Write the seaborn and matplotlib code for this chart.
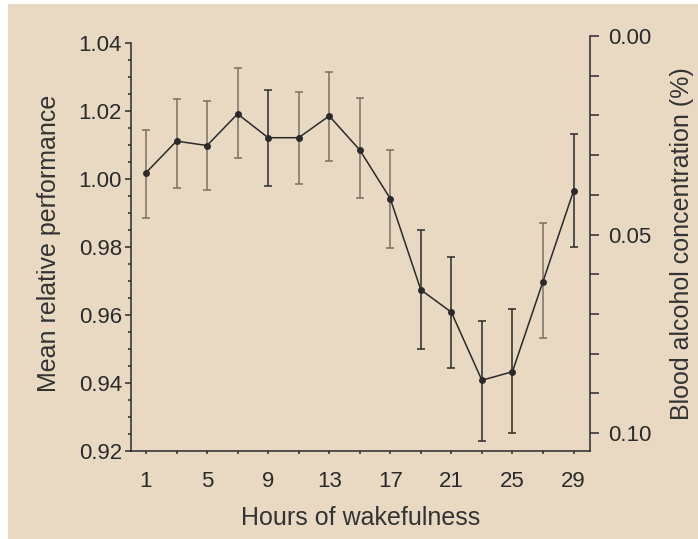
import matplotlib
import matplotlib.pyplot as plt
import seaborn as sns
from matplotlib.patches import Rectangle
from matplotlib.ticker import MultipleLocator, FixedLocator

matplotlib.use("Agg")

# Data
hours = [1, 3, 5, 7, 9, 11, 13, 15, 17, 19, 21, 23, 25, 27, 29]
performance = [1.0018, 1.0111, 1.0098, 1.0191, 1.0121, 1.0121, 1.0185, 1.0085,
               0.9942, 0.9674, 0.9608, 0.9408, 0.9433, 0.9698, 0.9964]
upper = [1.0144, 1.0236, 1.0228, 1.0327, 1.026, 1.0255, 1.0315, 1.0237,
         1.0085, 0.9849, 0.977, 0.9581, 0.9617, 0.9871, 1.0132]
lower = [0.9884, 0.9973, 0.9968, 1.0061, 0.9979, 0.9985, 1.0053, 0.9944,
         0.9798, 0.9501, 0.9445, 0.9228, 0.9253, 0.9532, 0.9799]
x_tick_labels = [1, 5, 9, 13, 17, 21, 25, 29]
left_ticks = [0.92, 0.94, 0.96, 0.98, 1.00, 1.02, 1.04]
bac_ticks = [0.00, 0.05, 0.10]

# error bars drawn in solid black (others appear faded grey)
DARK_BARS = [9, 19, 21, 23, 25, 29]

BEIGE = "#e9d9c3"
INK = "#2a2a2a"
GREY = "#7a7166"

sns.set_theme(style="ticks")
plt.rcParams["font.family"] = ["Liberation Sans", "DejaVu Sans"]
plt.rcParams.update({
    "axes.edgecolor": INK,
    "axes.linewidth": 1.1,
    "xtick.color": INK,
    "ytick.color": INK,
    "text.color": "#333333",
    "axes.labelcolor": "#333333",
})

fig = plt.figure(figsize=(6.98, 5.39), dpi=100)
fig.patch.set_facecolor("white")
fig.patches.append(Rectangle((8 / 698, 0), 1, 1 - 4 / 539, transform=fig.transFigure,
                             facecolor=BEIGE, edgecolor="none", zorder=-10))

ax = fig.add_axes([130.7 / 698, 88 / 539, 459.6 / 698, 415 / 539])
ax.set_facecolor("none")

# error bars
for dark in (False, True):
    idx = [i for i, h in enumerate(hours) if (h in DARK_BARS) == dark]
    xs = [hours[i] for i in idx]
    ys = [performance[i] for i in idx]
    yerr = [[performance[i] - lower[i] for i in idx],
            [upper[i] - performance[i] for i in idx]]
    ax.errorbar(xs, ys, yerr=yerr, fmt="none", ecolor=INK if dark else GREY,
                elinewidth=1.1, capsize=3, capthick=1.1, zorder=2)

sns.lineplot(x=hours, y=performance, ax=ax, color=INK, linewidth=1.1,
             marker="o", markersize=5, markeredgewidth=0, zorder=3)

ax.set_xlim(0, 30.1)
ax.set_ylim(0.92, 1.042)
ax.spines["left"].set_bounds(0.92, 1.04)
ax.spines["top"].set_visible(False)
ax.spines["right"].set_visible(False)

ax.xaxis.set_major_locator(FixedLocator(x_tick_labels))
ax.xaxis.set_minor_locator(FixedLocator([h for h in hours if h not in x_tick_labels]))
ax.set_yticks(left_ticks)
ax.set_yticklabels([f"{v:.2f}" for v in left_ticks])
ax.yaxis.set_minor_locator(MultipleLocator(0.005))

ax.tick_params(axis="x", which="both", direction="out", length=2.2, width=1.1,
               pad=12, labelsize=16)
ax.tick_params(axis="y", which="major", direction="out", length=4.3, width=1.1,
               pad=2, labelsize=16)
ax.tick_params(axis="y", which="minor", direction="out", length=2, width=1.1)

ax.set_xlabel("Hours of wakefulness", fontsize=18, labelpad=10)
ax.set_ylabel("Mean relative performance", fontsize=18, labelpad=13)

ax2 = ax.twinx()
ax2.set_ylim(0.1045, 0.0)
ax2.spines["top"].set_visible(False)
ax2.spines["left"].set_visible(False)
ax2.spines["bottom"].set_visible(False)
ax2.set_yticks(bac_ticks)
ax2.set_yticklabels([f"{v:.2f}" for v in bac_ticks])
ax2.yaxis.set_minor_locator(MultipleLocator(0.01))
ax2.tick_params(axis="y", which="both", direction="out", length=6.5, width=1.1,
                pad=6, labelsize=16)
ax2.set_ylabel("Blood alcohol concentration (%)", fontsize=18, labelpad=14)

fig.savefig("out.png", dpi=100)
plt.close(fig)
